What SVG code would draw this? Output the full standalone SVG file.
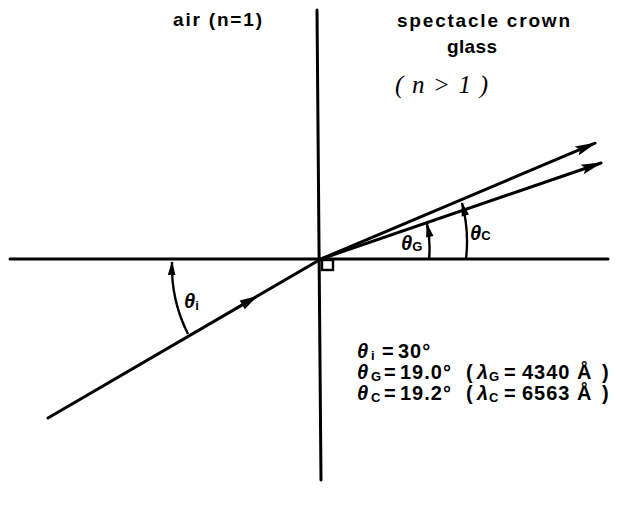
<svg xmlns="http://www.w3.org/2000/svg" width="619" height="505" viewBox="0 0 619 505">
<style>
.ln{stroke:#000;stroke-width:3;fill:none;stroke-linecap:round}
.thin{stroke:#000;stroke-width:2.4;fill:none}
.t{font-family:"Liberation Sans",Arial,sans-serif;font-weight:bold;font-size:19px;fill:#000}
.eq{font-family:"Liberation Sans",Arial,sans-serif;font-weight:bold;font-size:20px;fill:#000;letter-spacing:1px}
.g{font-style:italic;letter-spacing:0}
.sub{font-size:13px;font-style:normal;letter-spacing:0}
.hand{font-family:"Liberation Serif","Times New Roman",serif;font-style:italic;font-size:25px;fill:#000}
</style>
<defs>
<marker id="ah" markerUnits="userSpaceOnUse" markerWidth="26" markerHeight="14" viewBox="-22 -7 26 14" refX="0" refY="0" orient="auto">
<path d="M2,0 L-20,-5 L-16,0 L-20,5 Z" fill="#000"/>
</marker>
<marker id="ahm" markerUnits="userSpaceOnUse" markerWidth="24" markerHeight="12" viewBox="-12 -6 24 12" refX="0" refY="0" orient="auto">
<path d="M9,0 L-9,-5 L-9,5 Z" fill="#000"/>
</marker>
<marker id="as" markerUnits="userSpaceOnUse" markerWidth="18" markerHeight="10" viewBox="-15 -5 18 10" refX="0" refY="0" orient="auto">
<path d="M1,0 L-13,-3.8 L-13,3.8 Z" fill="#000"/>
</marker>
</defs>
<g id="axes">
<line class="ln" x1="10" y1="259" x2="608" y2="259"/>
<line class="ln" x1="317" y1="10" x2="321" y2="480"/>
<rect class="thin" x="322" y="260" width="11" height="10"/>
</g>
<g id="connectors">
<path class="ln" d="M48,418 L250,300.4 L321,259" marker-mid="url(#ahm)"/>
<line class="ln" x1="321" y1="259" x2="595" y2="143.2" marker-end="url(#ah)"/>
<line class="ln" x1="321" y1="259" x2="601" y2="163" marker-end="url(#ah)"/>
<path class="thin" d="M188,334 A150,150 0 0 1 172,262" marker-end="url(#as)"/>
<path class="thin" d="M429,259 A110,110 0 0 0 427,224" marker-end="url(#as)"/>
<path class="thin" d="M466,259 A150,150 0 0 0 462,203" marker-end="url(#as)"/>
</g>
<g id="labels">
<text class="t" x="173" y="26" textLength="89" lengthAdjust="spacing">air (n=1)</text>
<text class="t" x="397" y="27" textLength="173" lengthAdjust="spacing">spectacle crown</text>
<text class="t" x="447" y="53" textLength="50" lengthAdjust="spacing">glass</text>
<text class="hand" x="395" y="93" textLength="93" lengthAdjust="spacing">(n&gt;1)</text>
<text class="eq" x="184" y="308"><tspan class="g">θ</tspan><tspan class="sub" dy="2">i</tspan></text>
<text class="eq" x="401" y="250"><tspan class="g">θ</tspan><tspan class="sub" dy="1">G</tspan></text>
<text class="eq" x="470" y="240"><tspan class="g">θ</tspan><tspan class="sub" dy="0">C</tspan></text>
</g>
<g id="equations">
<text class="eq" y="358"><tspan class="g" x="357">θ</tspan><tspan class="sub" x="371" dy="2">i</tspan><tspan x="382" dy="-2">=</tspan><tspan x="398">30°</tspan></text>
<text class="eq" y="379"><tspan class="g" x="357">θ</tspan><tspan class="sub" x="371" dy="2">G</tspan><tspan x="384" dy="-2">=</tspan><tspan x="400">19.0°</tspan><tspan x="466">(</tspan><tspan class="g" x="477">λ</tspan><tspan class="sub" x="489" dy="2">G</tspan><tspan x="504" dy="-2">=</tspan><tspan x="522">4340</tspan><tspan x="577">Å</tspan><tspan x="602">)</tspan></text>
<text class="eq" y="400"><tspan class="g" x="357">θ</tspan><tspan class="sub" x="371" dy="2">C</tspan><tspan x="384" dy="-2">=</tspan><tspan x="400">19.2°</tspan><tspan x="466">(</tspan><tspan class="g" x="477">λ</tspan><tspan class="sub" x="489" dy="2">C</tspan><tspan x="504" dy="-2">=</tspan><tspan x="522">6563</tspan><tspan x="577">Å</tspan><tspan x="602">)</tspan></text>
</g>
</svg>
